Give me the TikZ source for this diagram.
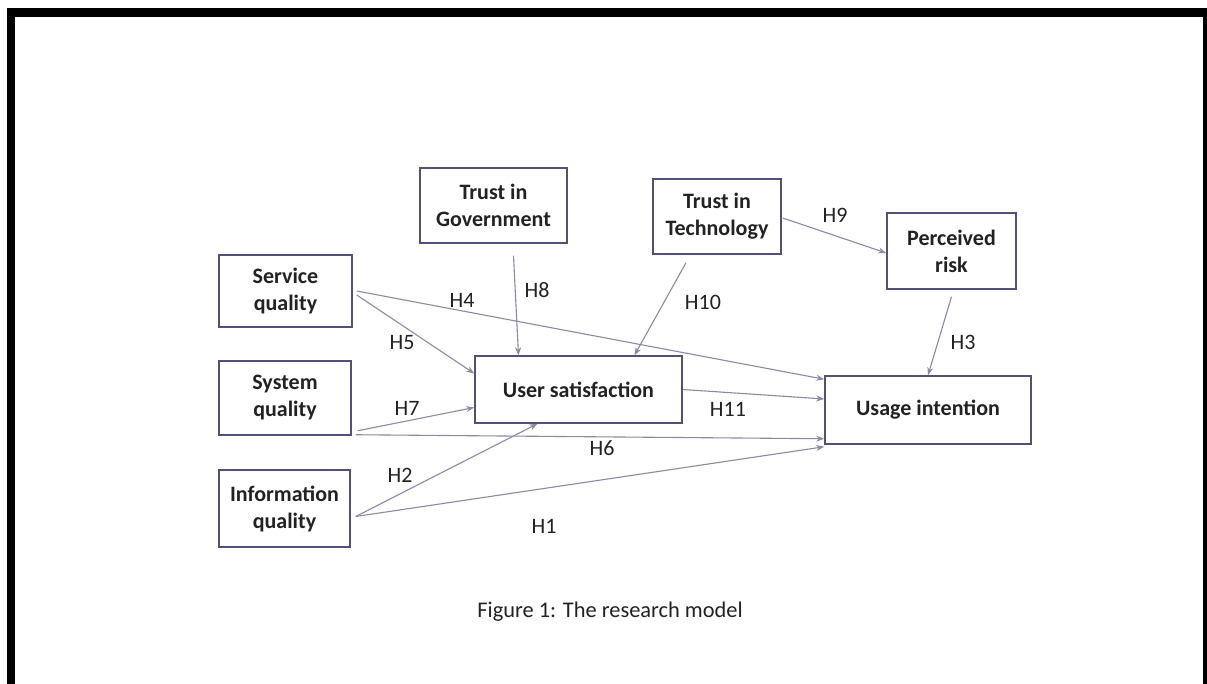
\documentclass[tikz,border=0pt]{standalone}
\usepackage{fontspec}
\setmainfont{Carlito}
\usetikzlibrary{arrows.meta}
\definecolor{boxc}{HTML}{50507A}
\definecolor{linec}{HTML}{8A8AA6}
\definecolor{txtc}{HTML}{222222}
\begin{document}
\begin{tikzpicture}[x=0.5pt,y={(0pt,-0.5pt)},
  var/.style={draw=boxc,line width=0.75pt,rectangle,inner sep=0pt,align=center,
    font=\fontsize{11}{13.5}\selectfont\bfseries,text=txtc},
  hyp/.style={font=\fontsize{11}{13}\selectfont,text=txtc,inner sep=0pt},
  link/.style={draw=linec,line width=0.55pt,-{Stealth[length=4pt,width=3pt]}}]
\useasboundingbox (0,0) rectangle (1207,684);
\clip (0,0) rectangle (1207,684);
\fill[white] (0,0) rectangle (1207,684);
% frame
\draw[line width=4.25pt,black] (11,720) -- (11,12.5) -- (1207,12.5) -- (1207,720);
% nodes
\node[var,minimum width=66.5pt,minimum height=36pt] (svc) at (285.5,291) {Service\\quality};
\node[var,minimum width=73.5pt,minimum height=37.5pt] (gov) at (493.5,205.5) {Trust in\\Government};
\node[var,minimum width=64pt,minimum height=37.5pt] (tech) at (717,216.5) {Trust in\\Technology};
\node[var,minimum width=64.5pt,minimum height=38pt] (risk) at (951.5,251) {Perceived\\risk};
\node[var,minimum width=103.5pt,minimum height=33.5pt] (us) at (578.5,389.5) {User satisfaction};
\node[var,minimum width=66pt,minimum height=37pt] (sys) at (285,398) {System\\quality};
\node[var,minimum width=65.5pt,minimum height=38.5pt] (info) at (284.5,508.5) {Information\\quality};
\node[var,minimum width=103pt,minimum height=34pt] (ui) at (928,410) {Usage intention};
% connectors
\draw[link] ([xshift=2pt]svc.east) -- ([yshift=-2pt]ui.north west);
\draw[link] ([xshift=2pt,yshift=-2pt]svc.east) -- ([yshift=8pt]us.west);
\draw[link] ([xshift=10pt,yshift=-6pt]gov.south) -- ([xshift=-30pt]us.north);
\draw[link] ([xshift=-15.5pt,yshift=-4pt]tech.south) -- ([xshift=28pt]us.north);
\draw[link] ([xshift=0.5pt,yshift=-0.75pt]tech.east) -- ([yshift=-1pt]risk.west);
\draw[link] ([yshift=-3.5pt]risk.south) -- (ui.north);
\draw[link] (us.east) -- ([yshift=5.5pt]ui.west);
\draw[link] ([xshift=3pt,yshift=2.5pt]sys.south east) -- ([yshift=-9pt]us.west);
\draw[link] ([xshift=2pt,yshift=0.5pt]sys.south east) -- ([yshift=3pt]ui.south west);
\draw[link] ([xshift=2.5pt,yshift=-4pt]info.east) -- ([xshift=-20.5pt]us.south);
\draw[link] ([xshift=2.5pt,yshift=-4pt]info.east) -- ([yshift=-1pt]ui.south west);
% labels
\node[hyp] (h4) at (462,300) {H4};
\node[hyp] (h8) at (537,290) {H8};
\node[hyp] (h5) at (402,343) {H5};
\node[hyp] (h10) at (703,302) {H10};
\node[hyp] (h9) at (835,215) {H9};
\node[hyp] (h3) at (963,342) {H3};
\node[hyp] (h11) at (728,409) {H11};
\node[hyp] (h7) at (407,408) {H7};
\node[hyp] (h6) at (602,448) {H6};
\node[hyp] (h2) at (400,475) {H2};
\node[hyp] (h1) at (544,526) {H1};
% caption
\node[font=\fontsize{11.2}{13}\selectfont,text=txtc,inner sep=0pt] (cap) at (610,612) {Figure 1: The research model};
\end{tikzpicture}
\end{document}
